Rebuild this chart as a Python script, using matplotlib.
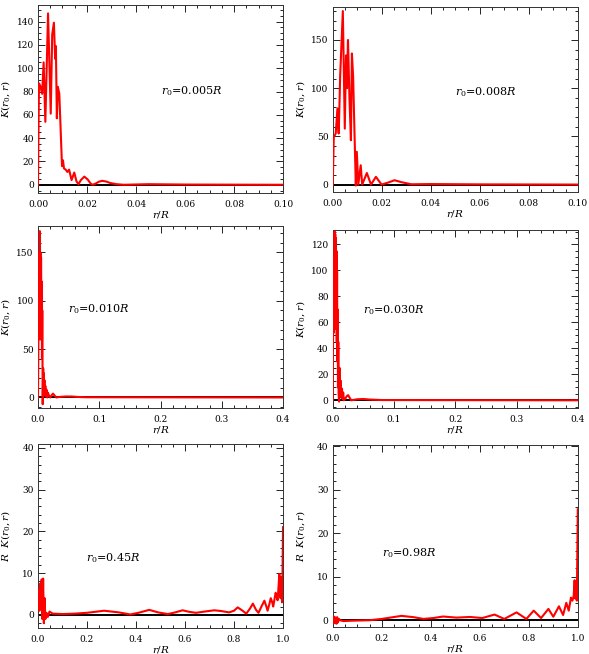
import matplotlib
matplotlib.use("Agg")
import matplotlib.pyplot as plt
from matplotlib.ticker import MultipleLocator, FormatStrFormatter

plt.rcParams['font.family'] = 'DejaVu Serif'
plt.rcParams['mathtext.fontset'] = 'dejavuserif'

# r0 = 0.005R
r1 = [0, 0.0004, 0.0009, 0.0017, 0.0023, 0.003, 0.0041, 0.0052, 0.0058, 0.0065, 0.007,
      0.0073, 0.0077, 0.0081, 0.0087, 0.0092, 0.0098, 0.0102, 0.0106, 0.0113, 0.012,
      0.0127, 0.0137, 0.0148, 0.0157, 0.0165, 0.0175, 0.0189, 0.0203, 0.0215, 0.0223,
      0.0235, 0.0248, 0.0262, 0.0278, 0.0295, 0.032, 0.035, 0.045, 0.06, 0.1]
k1 = [0, 87, 85, 78, 105, 54, 147, 61, 129, 139, 108, 119, 57, 84, 78, 50, 16, 21, 14,
      13, 11, 13, 4, 10.5, 3, 0.5, 4, 7, 4.5, 1, 0, 1, 2.6, 3.4, 2.8, 1.5, 0.5, 0, 0.5,
      0.2, 0]

# r0 = 0.008R
r2 = [0, 0.0004, 0.0012, 0.0019, 0.0024, 0.0027, 0.003, 0.0041, 0.0049, 0.0054,
      0.0058, 0.0062, 0.0068, 0.0074, 0.0078, 0.0083, 0.0088, 0.0094, 0.0098, 0.0104,
      0.0114, 0.012, 0.0139, 0.0156, 0.0176, 0.0199, 0.0225, 0.0252, 0.028, 0.032,
      0.04, 0.06, 0.1]
k2 = [0, 49, 53, 79, 53, 80, 112, 180, 58, 134, 100, 150, 90, 46, 136, 112, 60, -1, 34,
      0, 20, 0, 12, 0, 8, 0, 2, 4.5, 2.5, 0.3, 0.5, 0.2, 0]

# r0 = 0.010R
r3 = [0, 0.0005, 0.001, 0.0015, 0.002, 0.0025, 0.003, 0.0035, 0.004, 0.0045, 0.005,
      0.0055, 0.006, 0.0065, 0.007, 0.0077, 0.0085, 0.009, 0.0095, 0.010, 0.0105, 0.011,
      0.012, 0.013, 0.014, 0.015, 0.016, 0.018, 0.020, 0.022, 0.0245, 0.027, 0.03,
      0.035, 0.045, 0.055, 0.065, 0.08, 0.4]
k3 = [0, 40, 95, 60, 150, 100, 172, 120, 150, 60, 145, 80, 120, 40, 90, -7, 30, 5, 25,
      2, 18, 3, 12, 1, 8, 0, 5, 2, 0, 2, 4, 2, 0, 0.5, 1, 1, 0.5, 0.2, 0]

# r0 = 0.030R
r4 = [0, 0.0005, 0.001, 0.0015, 0.002, 0.0025, 0.003, 0.0035, 0.004, 0.0045, 0.005,
      0.0055, 0.006, 0.0065, 0.007, 0.0075, 0.008, 0.0085, 0.009, 0.0095, 0.0103, 0.011,
      0.012, 0.013, 0.014, 0.015, 0.016, 0.017, 0.018, 0.02, 0.0225, 0.025, 0.0275,
      0.03, 0.04, 0.05, 0.06, 0.08, 0.4]
k4 = [0, 55, 80, 52, 110, 75, 130, 95, 128, 60, 125, 55, 115, 45, 100, 30, 70, 10, 45,
      5, -1, 25, 3, 15, 2, 9, 1, 6, 0, 1, 3, 4, 2, 0, 0.8, 1, 0.6, 0.2, 0]

# r0 = 0.45R  (R K)
r5 = [0, 0.003, 0.006, 0.009, 0.012, 0.015, 0.018, 0.021, 0.024, 0.027, 0.03, 0.035,
      0.04, 0.047, 0.06, 0.1, 0.15, 0.2, 0.27, 0.33, 0.377, 0.41, 0.454, 0.49, 0.53,
      0.56, 0.59, 0.62, 0.645, 0.68, 0.72, 0.75, 0.78, 0.8, 0.815, 0.835, 0.85, 0.865,
      0.877, 0.89, 0.9, 0.912, 0.924, 0.932, 0.937, 0.944, 0.95, 0.956, 0.96, 0.966,
      0.97, 0.974, 0.978, 0.982, 0.985, 0.988, 0.99, 0.993, 0.996, 0.998, 1.0]
k5 = [3, 6, 1, 7.5, 2, 8.5, -1, 8.7, -2, 4, -1, 0.5, -0.5, 0.8, 0.3, 0.2, 0.3, 0.5, 1.0,
      0.6, 0.1, 0.5, 1.2, 0.6, 0.2, 0.6, 1.1, 0.7, 0.5, 0.8, 1.1, 0.9, 0.6, 1.0, 1.8,
      1.0, 0.3, 1.5, 2.7, 1.2, 0.5, 2.0, 3.4, 2.0, 1.0, 2.5, 4.0, 3.0, 2.0, 4.0, 5.3,
      4.5, 3.5, 7.0, 9.8, 6.0, 4.0, 9.0, 3.0, 10, 21]

# r0 = 0.98R  (R K)
r6 = [0, 0.003, 0.006, 0.009, 0.012, 0.015, 0.018, 0.021, 0.025, 0.03, 0.043, 0.08,
      0.15, 0.2, 0.28, 0.33, 0.37, 0.41, 0.45, 0.505, 0.56, 0.61, 0.66, 0.70, 0.75,
      0.79, 0.82, 0.85, 0.88, 0.90, 0.923, 0.94, 0.953, 0.963, 0.972, 0.978, 0.983,
      0.987, 0.99, 0.993, 0.996, 0.998, 1.0]
k6 = [0.5, -0.6, 0.8, -0.7, 0.6, -0.8, 0.7, -0.5, 0.3, 0, -0.2, -0.1, 0, 0.3, 1.0, 0.7,
      0.3, 0.5, 0.85, 0.6, 0.75, 0.5, 1.3, 0.3, 1.8, 0.3, 2.2, 0.5, 2.6, 0.8, 3.2, 1.2,
      4.0, 2.2, 5.2, 4.5, 5.5, 9.2, 5.0, 9.0, 4.5, 15, 25.5]

labels = [r'$r_0$=0.005$R$', r'$r_0$=0.008$R$', r'$r_0$=0.010$R$',
          r'$r_0$=0.030$R$', r'$r_0$=0.45$R$', r'$r_0$=0.98$R$']

fig = plt.figure(figsize=(5.89, 6.54), dpi=100)

# [left, bottom, width, height], xlim, ylim, xmajor, xminor, ymajor, yminor, text pos
panels = [
    ([0.0645, 0.705, 0.416, 0.287], (0, 0.1), (-7, 154), 0.02, 0.005, 20, 5, (0.50, 0.54)),
    ([0.565, 0.706, 0.416, 0.283], (0, 0.1), (-8, 184), 0.02, 0.005, 50, 10, (0.50, 0.54)),
    ([0.0645, 0.376, 0.416, 0.278], (0, 0.4), (-11, 177), 0.1, 0.02, 50, 10, (0.123, 0.544)),
    ([0.565, 0.376, 0.416, 0.272], (0, 0.4), (-6, 131), 0.1, 0.02, 20, 5, (0.123, 0.55)),
    ([0.0645, 0.040, 0.416, 0.281], (0, 1.0), (-3.1, 40.9), 0.2, 0.05, 10, 2, (0.196, 0.38)),
    ([0.565, 0.041, 0.416, 0.278], (0, 1.0), (-1.6, 40.2), 0.2, 0.05, 10, 2, (0.20, 0.407)),
]
data = [(r1, k1), (r2, k2), (r3, k3), (r4, k4), (r5, k5), (r6, k6)]

for i, (pos, xl, yl, xmj, xmn, ymj, ymn, tpos) in enumerate(panels):
    ax = fig.add_axes(pos)
    r, k = data[i]
    ax.axhline(0, color='black', lw=1.4, zorder=2)
    ax.plot(r, k, color='red', lw=1.5, zorder=3)
    ax.set_xlim(xl)
    ax.set_ylim(yl)
    ax.xaxis.set_major_locator(MultipleLocator(xmj))
    ax.xaxis.set_minor_locator(MultipleLocator(xmn))
    ax.yaxis.set_major_locator(MultipleLocator(ymj))
    ax.yaxis.set_minor_locator(MultipleLocator(ymn))
    if xmj < 0.05:
        ax.xaxis.set_major_formatter(FormatStrFormatter('%.2f'))
    else:
        ax.xaxis.set_major_formatter(FormatStrFormatter('%.1f'))
    ax.tick_params(which='both', direction='in', top=True, right=True,
                   labelsize=6.5, width=0.6)
    ax.tick_params(axis='x', pad=5)
    ax.tick_params(axis='y', pad=3)
    ax.tick_params(which='major', length=5)
    ax.tick_params(which='minor', length=2.5)
    for s in ax.spines.values():
        s.set_linewidth(0.7)
        s.set_color('#333333')
    ax.set_xlabel(r'$r/R$', fontsize=7.5, labelpad=0)
    if i < 4:
        ax.set_ylabel(r'$K(r_0,r)$', fontsize=7.5)
    else:
        ax.set_ylabel(r'$R\ \ K(r_0,r)$', fontsize=7.5)
    ax.yaxis.set_label_coords(-0.106, 0.5)
    ax.text(tpos[0], tpos[1], labels[i], transform=ax.transAxes, fontsize=8,
            ha='left', va='center')

fig.savefig('out.png', dpi=100)
